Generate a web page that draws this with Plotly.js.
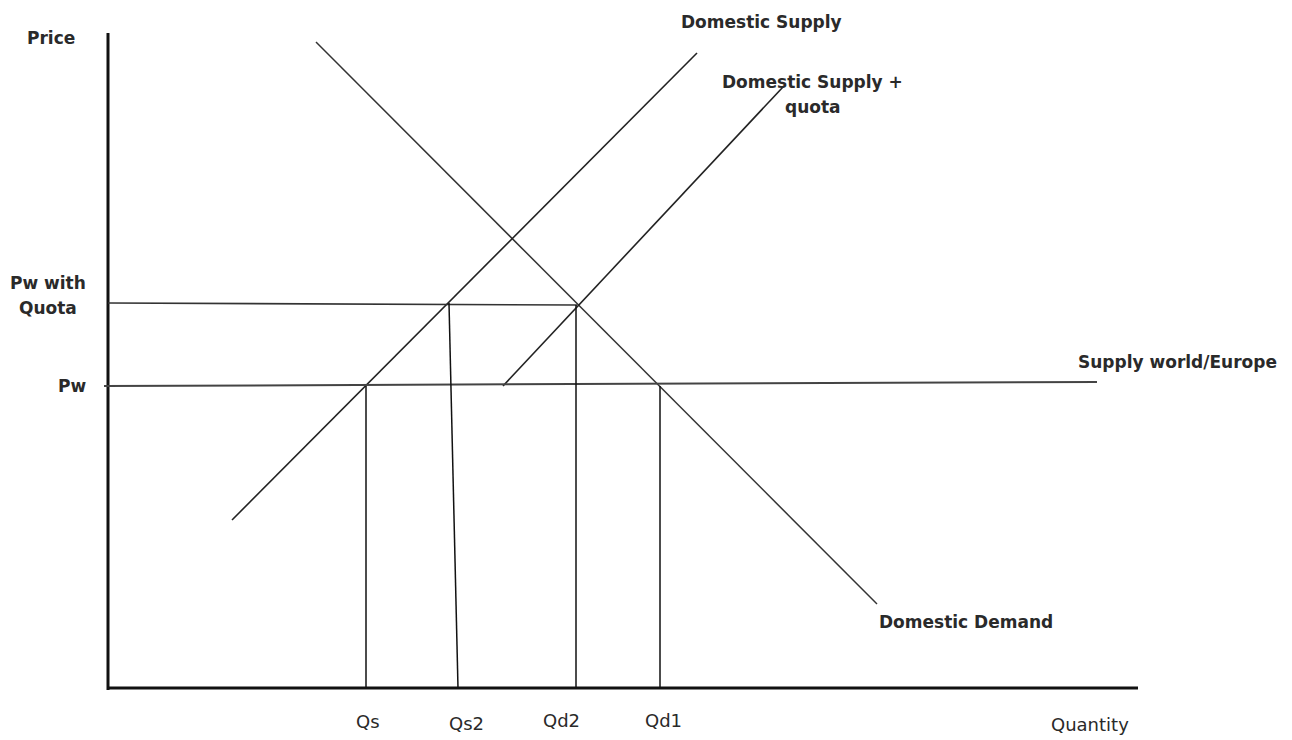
<!DOCTYPE html>
<html>
<head>
<meta charset="utf-8">
<script src="https://cdn.plot.ly/plotly-3.0.1.min.js"></script>
<style>
  html, body { margin: 0; padding: 0; background: #ffffff; }
  #chart { width: 1292px; height: 740px; }
</style>
</head>
<body>
<div id="chart"></div>
<script>
// ---- data (quantity / price units) ----
const axisQ = [0, 103];            // extent of the quantity axis
const axisP = [-0.2, 65.5];        // extent of the price axis

const demandQ = [20.8, 76.9];
const demandP = [64.6, 8.4];

const supplyQ = [12.4, 58.9];
const supplyP = [16.8, 63.5];

const quotaSupplyQ = [39.5, 67.5];
const quotaSupplyP = [30.2, 60.1];

const worldQ = [-0.4, 98.9];
const worldP = [30.2, 30.6];

const quotaPriceQ = [0, 46.9];
const quotaPriceP = [38.5, 38.3];

const dropNames = ['Qs', 'Qs2', 'Qd2', 'Qd1'];
const dropTopQ = [25.8, 34.1, 46.8, 55.2];
const dropBottomQ = [25.8, 35.0, 46.8, 55.2];
const dropTopP = [30.2, 38.5, 38.3, 30.2];

// labels
const qLabelX = [25.95, 35.85, 45.3, 55.5];
const qLabelY = [-3.37, -3.5, -3.2, -3.2];

const PW = 30.2;

// ---- traces ----
const traces = [];
function seg(x, y, color, width) {
  traces.push({
    type: 'scatter', mode: 'lines', x: x, y: y,
    line: { color: color, width: width },
    hoverinfo: 'skip', showlegend: false
  });
}
// axes
seg([axisQ[0], axisQ[0]], axisP, '#111', 3);
seg(axisQ, [0, 0], '#111', 3);
// curves
seg(demandQ, demandP, '#333', 1.5);
seg(supplyQ, supplyP, '#222', 1.6);
seg(quotaSupplyQ, quotaSupplyP, '#222', 1.6);
seg(worldQ, worldP, '#444', 2);
seg(quotaPriceQ, quotaPriceP, '#333', 1.6);
for (let i = 0; i < dropNames.length; i++) {
  seg([dropTopQ[i], dropBottomQ[i]], [dropTopP[i], 0], '#111', 1.5);
}

const boldFont = { family: 'DejaVu Sans', size: 17, color: '#2a2a2a', weight: 'bold' };
const regFont = { family: 'DejaVu Sans', size: 18, color: '#2a2a2a' };

function ann(x, y, text, font, xanchor) {
  return { x: x, y: y, xref: 'x', yref: 'y', text: text, showarrow: false,
           font: font, xanchor: xanchor || 'center', yanchor: 'middle' };
}

const annotations = [
  ann(-5.7, 65.0, 'Price', boldFont),
  ann(65.3, 66.6, 'Domestic Supply', boldFont),
  ann(70.4, 60.63, 'Domestic Supply +', boldFont),
  ann(70.45, 58.07, 'quota', boldFont),
  ann(-6.05, 40.53, 'Pw with', boldFont),
  ann(-6.05, 37.97, 'Quota', boldFont),
  ann(-3.6, PW, 'Pw', boldFont),
  ann(106.9, 32.57, 'Supply world/Europe', boldFont),
  ann(85.8, 6.57, 'Domestic Demand', boldFont),
  ann(98.2, -3.6, 'Quantity', regFont)
];
for (let i = 0; i < dropNames.length; i++) {
  annotations.push(ann(qLabelX[i], qLabelY[i], dropNames[i], regFont));
}

const layout = {
  width: 1292, height: 740,
  margin: { l: 0, r: 0, t: 0, b: 0 },
  paper_bgcolor: '#ffffff', plot_bgcolor: '#ffffff',
  xaxis: { range: [-10.8, 118.4], visible: false, fixedrange: true },
  yaxis: { range: [-5.2, 68.8], visible: false, fixedrange: true },
  showlegend: false,
  annotations: annotations
};

Plotly.newPlot('chart', traces, layout, { staticPlot: true, displayModeBar: false });
</script>
</body>
</html>
